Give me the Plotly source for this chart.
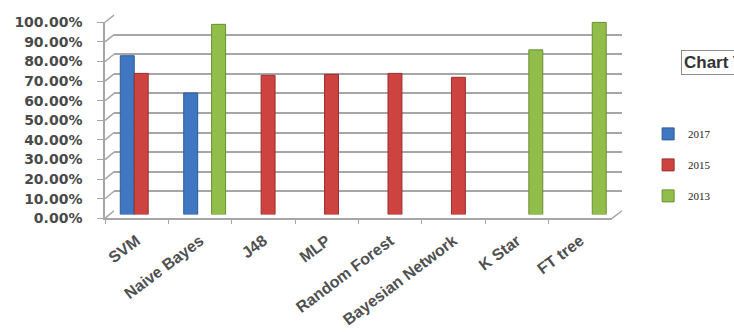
import plotly.graph_objects as go

# Classifier accuracy by study year
categories = ["SVM", "Naive Bayes", "J48", "MLP", "Random Forest",
              "Bayesian Network", "K Star", "FT tree"]
acc_2017 = [0.81, 0.62, None, None, None, None, None, None]
acc_2015 = [0.72, None, 0.71, 0.715, 0.72, 0.70, None, None]
acc_2013 = [None, 0.97, None, None, None, None, 0.84, 0.98]

series = [("2017", acc_2017, "#3F77C2", "#2E5A94"),
          ("2015", acc_2015, "#CC4340", "#9C2F2C"),
          ("2013", acc_2013, "#91BE4A", "#6A8F32")]

W, H = 734, 333
# pseudo-3D box: front face (value labels), back wall (gridlines),
# and the mid-depth plane the columns stand in, all in pixels
front = dict(x0=105, x1=612, y0=221, y1=15)
back = dict(x0=114, x1=622, y0=213, y1=7.5)
mid = dict(x0=109.5, x1=617, y0=217, y1=11)


def xdom(b):
    return [b["x0"] / W, b["x1"] / W]


def ydom(b):
    return [(H - b["y0"]) / H, (H - b["y1"]) / H]


n = len(categories)
xr = [-0.5, n - 0.5]
grid_col = "#A6A6A6"
ticks = [i / 10 for i in range(11)]

fig = go.Figure()

# invisible anchors so the wall and the front axes are laid out
for xa, ya in (("x", "y"), ("x2", "y2")):
    fig.add_trace(go.Scatter(x=categories, y=[0] * n, xaxis=xa, yaxis=ya,
                             mode="markers", marker=dict(opacity=0),
                             showlegend=False, hoverinfo="skip"))

for name, vals, color, edge in series:
    fig.add_trace(go.Bar(
        name=name, x=categories, y=vals, xaxis="x3", yaxis="y3",
        marker=dict(color=color, line=dict(color=edge, width=1)),
        legendgroup=name,
    ))

hidden = dict(showgrid=False, showticklabels=False, zeroline=False,
              showline=False, ticks="")

fig.update_layout(
    width=W, height=H,
    margin=dict(l=0, r=0, t=0, b=0),
    paper_bgcolor="white", plot_bgcolor="rgba(0,0,0,0)",
    barmode="group", bargap=0.34, bargroupgap=0,
    # back wall with its gridlines
    xaxis=dict(domain=xdom(back), anchor="y", range=xr, **hidden),
    yaxis=dict(domain=ydom(back), anchor="x", range=[0, 1], tickvals=ticks,
               showgrid=True, gridcolor=grid_col, gridwidth=2,
               showticklabels=False, zeroline=False, showline=False),
    # front edges carrying the labels
    xaxis2=dict(domain=xdom(front), anchor="y2", range=xr,
                showgrid=False, zeroline=False, showline=True,
                linecolor=grid_col, linewidth=2,
                ticks="outside", ticklen=4, tickcolor=grid_col,
                tickson="boundaries", tickangle=-37,
                ticklabelstandoff=5,
                tickfont=dict(family="Liberation Sans", size=16,
                              color="#505050", weight="bold")),
    yaxis2=dict(domain=ydom(front), anchor="x2", range=[0, 1],
                tickvals=ticks, tickformat=".2%", showgrid=False,
                zeroline=False, showline=True, linecolor=grid_col,
                linewidth=1.5, ticks="outside", ticklen=6,
                tickcolor=grid_col, ticklabelstandoff=12,
                tickfont=dict(family="DejaVu Sans", size=14,
                              color="#4A4A4A", weight="bold")),
    # columns
    xaxis3=dict(domain=xdom(mid), anchor="y3", range=xr, **hidden),
    yaxis3=dict(domain=ydom(mid), anchor="x3", range=[0, 1], **hidden),
    legend=dict(x=0.883, y=(H - 117) / H, xanchor="left", yanchor="top",
                font=dict(family="Liberation Serif", size=11, color="#222"),
                tracegroupgap=12, itemwidth=30, bgcolor="rgba(0,0,0,0)"),
    showlegend=True,
)

# side wall and floor edges joining the front face to the back wall
shapes = []
for v in ticks:
    yf = front["y0"] + (front["y1"] - front["y0"]) * v
    yb = back["y0"] + (back["y1"] - back["y0"]) * v
    shapes.append(dict(type="line", xref="paper", yref="paper",
                       x0=front["x0"] / W, y0=(H - yf) / H,
                       x1=back["x0"] / W, y1=(H - yb) / H,
                       line=dict(color=grid_col, width=1.5), layer="below"))
shapes.append(dict(type="line", xref="paper", yref="paper",
                   x0=front["x1"] / W, y0=(H - front["y0"]) / H,
                   x1=back["x1"] / W, y1=(H - back["y0"]) / H,
                   line=dict(color=grid_col, width=1.5), layer="below"))
fig.update_layout(shapes=shapes)

fig.add_annotation(text="Chart Title", xref="paper", yref="paper",
                   x=681 / W, y=(H - 57) / H, xanchor="left", yanchor="middle",
                   showarrow=False, bgcolor="white", bordercolor="#8C8C8C",
                   borderwidth=1, borderpad=2,
                   font=dict(family="Liberation Sans", size=17, color="#333",
                             weight="bold"))

fig.write_html("out.html")
